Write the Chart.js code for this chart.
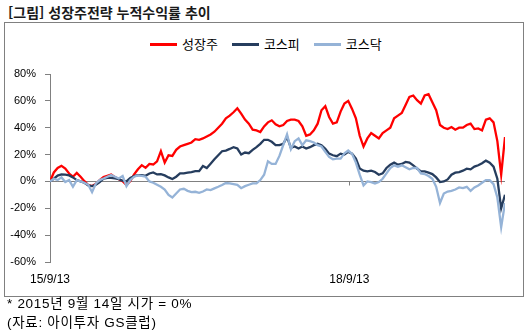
<!DOCTYPE html>
<html lang="ko">
<head>
<meta charset="UTF-8">
<title>성장주전략 누적수익률 추이</title>
<script src="https://cdn.jsdelivr.net/npm/chart.js"></script>
<style>
    body { margin: 0; background: #fff; }
    .wrap { position: relative; width: 531px; height: 335px; font-family: "Liberation Sans", Arial, "Noto Sans CJK KR", sans-serif; color: #000; }
    .title { position: absolute; left: 8px; top: 3px; font: bold 14px/18px "Noto Sans CJK KR", sans-serif; color: #1a1a1a; white-space: nowrap; }
    .frame { position: absolute; left: 4px; top: 22px; width: 518px; height: 273px; border: 1px solid #808080; }
    .legend { position: absolute; left: 150px; top: 36px; display: flex; font: 13px/16px "Noto Sans CJK KR", sans-serif; }
    .legend .item { display: flex; align-items: center; margin-right: 14px; }
    .legend .swatch { width: 27px; height: 3px; margin-right: 5px; }
    .note { position: absolute; left: 7px; top: 294px; font-size: 13.5px; line-height: 19px; letter-spacing: 0.7px; white-space: nowrap; }
    canvas { position: absolute; left: 0; top: 0; }
</style>
</head>
<body>
<div class="wrap">
    <div class="frame"></div>
    <div class="title">[그림] 성장주전략 누적수익률 추이</div>
    <div class="legend" id="legend"></div>
    <canvas id="chart" width="531" height="335"></canvas>
    <div class="note">* 2015년 9월 14일 시가 = 0%<br>(자료: 아이투자 GS클럽)</div>
</div>
<script>
    // 2주 간격 누적수익률(%) - 2015-09-13 기준
    const STEP_DAYS = 14;
    const seriesNames = ['성장주', '코스피', '코스닥'];
    const seriesColors = ['#ff0000', '#263d5e', '#95b3d7'];

    const growth = [
        0, 6.7, 10, 11.6, 9.6, 5.9, 3.5, 6.4, 3.5, 0.2,
        -2.7, -3.5, -1.7, 1, 3.2, 4.2, 5.2, 3.2, 1.7, 0.2,
        -2.7, 0.2, 5.2, 9.1, 12.1, 10.1, 13, 12.6, 15, 22.5,
        14, 19.5, 19, 23.5, 26, 27, 28, 29, 31.5, 31,
        32, 33.5, 35, 37, 40, 43, 47, 49, 51.5, 54.5,
        50.5, 46, 43, 38.5, 38, 36.8, 41, 44, 45.5, 42.5,
        41, 42, 45, 46, 46, 45, 41, 34, 35, 38,
        43, 53, 56, 48, 43, 44, 52, 58, 60, 54,
        47, 34, 26, 32, 36, 34, 32, 36, 38, 40,
        47, 49, 51, 57, 63, 64, 60.5, 58, 64, 65,
        59, 53, 42, 40, 39, 40.5, 38.5, 40, 40, 42,
        43, 39, 39.5, 38, 46, 47, 44, 30, 5, 33
    ];
    const kospi = [
        0, 2, 4.4, 5.2, 5, 4.5, 3, 1, 0, -1,
        -3, -3.5, -2.5, -0.5, 2, 2.7, 2.7, 2.2, 1.7, 0.5,
        0, 2.5, 4, 4.7, 4.7, 4.2, 5.9, 6.7, 5.2, 5.4,
        4.5, 3, 1.8, 3.5, 6, 6, 6.5, 7, 7.6, 7.6,
        11.5, 10, 13.2, 16.5, 19.5, 22.5, 23, 24.2, 25.5, 24.5,
        20, 21.5, 21, 23.5, 25.5, 28, 31, 31, 29.5, 27,
        27, 28, 33, 25, 26, 24.5, 26, 24.5, 25.5, 27,
        28, 27, 24.4, 20.7, 19.5, 18.8, 20.7, 20, 22, 20.7,
        17, 9.6, 8, 7.5, 8, 7, 5, 6, 10, 12.5,
        14, 12.5, 13, 14.5, 14, 12, 9.6, 7.5, 7.5, 6.5,
        5.5, 3, -0.5, 0, 1.5, 5, 6.5, 7, 8, 9.5,
        9, 11, 12, 13.5, 15.5, 14, 11, 2, -20, -10
    ];
    const kosdaq = [
        0, 2, 1, 3, -0.5, 1, -4, 1, 0, -1,
        -2.5, -8, -1.5, 1, 2.2, 3.5, 4.7, 3.5, 2.2, 4,
        -3.5, 1, 3.5, 4.5, 4.2, 3.5, 0, -1, -2.5, -4,
        -6, -10, -12, -9, -6, -5.5, -7, -8, -7.7, -8.5,
        -7.5, -6, -6.5, -5.2, -4, -2.7, -1.2, -1.5, -2, -2.5,
        -5, -3.5, -2.5, -1.5, -1.5, 1, 5, 15, 13, 13,
        19, 27, 35, 24, 30, 32, 27, 30.6, 30, 29,
        27, 26, 22, 18.3, 16.5, 17, 17, 21, 23, 20.5,
        14, 5, -3, 0, -0.5, -1.5, -0.5, 2, 6, 10,
        12, 11, 12, 10.5, 9, 10, 10, 6, 5.5, 4,
        2, -4, -16, -9, -7.5, -7, -6, -4.5, -5, -4,
        -7, -4.5, -3, -1, 1, 1, -2, -12, -34, -16
    ];

    // x축 눈금: 기준일로부터의 일수
    const xTickDays = [0, 1096];
    const xTickLabels = ['15/9/13', '18/9/13'];

    function toPoints(values) {
        return values.map((v, i) => ({ x: i * STEP_DAYS, y: v }));
    }

    // 0% 기준선 위에 x축 눈금 표시
    const zeroAxisTicks = {
        id: 'zeroAxisTicks',
        beforeDatasetsDraw(chart) {
            const { ctx, scales: { x, y } } = chart;
            const y0 = Math.round(y.getPixelForValue(0)) + 0.5;
            ctx.save();
            ctx.strokeStyle = '#808080';
            ctx.lineWidth = 1;
            xTickDays.forEach(d => {
                const px = Math.round(x.getPixelForValue(d)) + 0.5;
                ctx.beginPath();
                ctx.moveTo(px, y0);
                ctx.lineTo(px, y0 + 4);
                ctx.stroke();
            });
            ctx.restore();
        }
    };

    const datasets = [growth, kospi, kosdaq].map((values, i) => ({
        label: seriesNames[i],
        data: toPoints(values),
        borderColor: seriesColors[i],
        backgroundColor: seriesColors[i],
        borderWidth: 2.3,
        pointRadius: 0,
        tension: 0,
        order: 3 - i
    }));

    Chart.defaults.font.family = '"Liberation Sans", Arial, sans-serif';
    Chart.defaults.color = '#000';

    const chart = new Chart(document.getElementById('chart'), {
        type: 'line',
        data: { datasets: datasets },
        options: {
            responsive: false,
            animation: false,
            layout: { padding: { left: 0, right: 26, top: 74, bottom: 48 } },
            plugins: {
                legend: { display: false },
                tooltip: { enabled: false }
            },
            scales: {
                x: {
                    type: 'linear',
                    min: 0,
                    max: (growth.length - 1) * STEP_DAYS,
                    grid: { display: false, drawTicks: false },
                    border: { display: false },
                    ticks: {
                        padding: 10,
                        autoSkip: false,
                        maxRotation: 0,
                        font: { size: 12 },
                        callback: v => xTickLabels[xTickDays.indexOf(v)] || ''
                    },
                    afterBuildTicks: s => { s.ticks = xTickDays.map(v => ({ value: v })); },
                    afterFit: s => { s.height = 25; }
                },
                y: {
                    min: -60,
                    max: 80,
                    ticks: {
                        stepSize: 20,
                        padding: 9,
                        font: { size: 11 },
                        callback: v => v + '%'
                    },
                    grid: {
                        color: c => (c.tick && c.tick.value === 0) ? '#808080' : 'rgba(0,0,0,0)',
                        tickColor: '#808080',
                        tickLength: 5,
                        lineWidth: 1
                    },
                    border: { display: true, color: '#808080' },
                    afterFit: s => { s.width = 50; }
                }
            }
        },
        plugins: [zeroAxisTicks]
    });

    // 범례
    const legend = document.getElementById('legend');
    chart.data.datasets.forEach(ds => {
        const item = document.createElement('div');
        item.className = 'item';
        const sw = document.createElement('span');
        sw.className = 'swatch';
        sw.style.background = ds.borderColor;
        const txt = document.createElement('span');
        txt.textContent = ds.label;
        item.appendChild(sw);
        item.appendChild(txt);
        legend.appendChild(item);
    });
</script>
</body>
</html>
